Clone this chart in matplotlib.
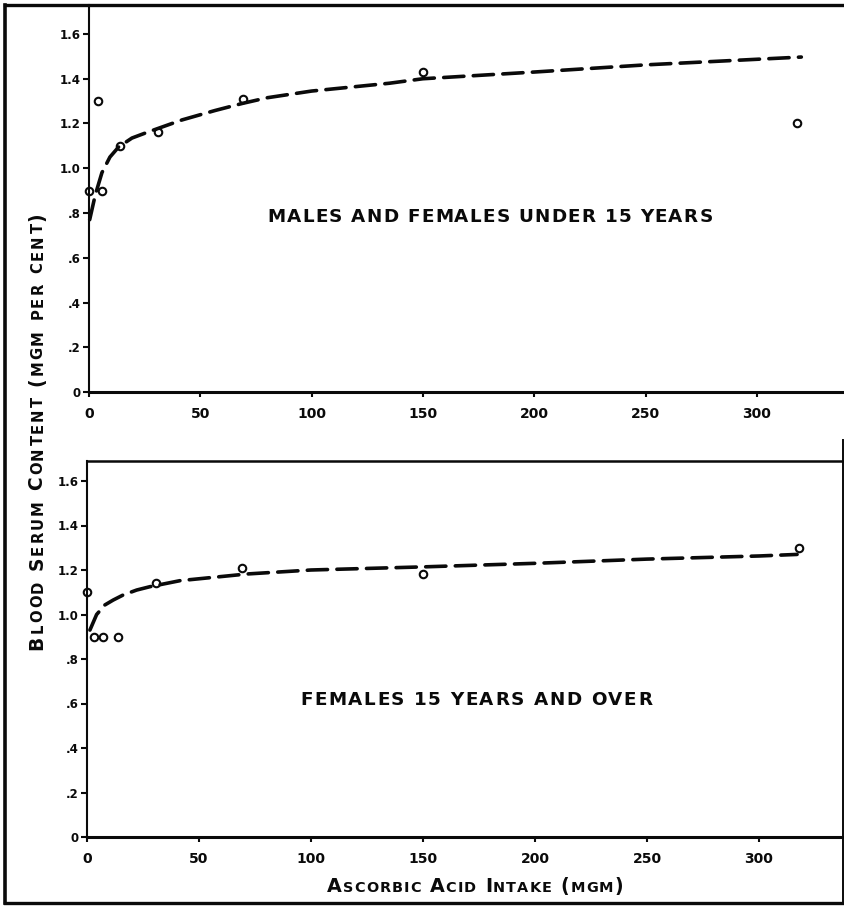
import matplotlib
matplotlib.use("Agg")
import matplotlib.pyplot as plt
from matplotlib.lines import Line2D
from matplotlib.transforms import IdentityTransform
from matplotlib.font_manager import FontProperties

W, H, DPI = 844, 906, 100
FAMILY = "DejaVu Sans"
INK = "#0a0a0a"

# ---- observations: ascorbic acid intake (mgm) vs blood serum content ----
intake_young = [0, 4, 6, 14, 31, 69, 150, 318]
serum_young = [0.90, 1.30, 0.90, 1.10, 1.16, 1.31, 1.43, 1.20]

intake_adult = [0, 3, 7, 14, 31, 69, 150, 318]
serum_adult = [1.10, 0.90, 0.90, 0.90, 1.14, 1.21, 1.18, 1.30]

# ---- hand-drawn trend curves ----
trend_young_x = [0.3, 2.8, 5.8, 9.4, 13.3, 19.3, 26.8, 41.8, 56.6, 69, 80, 100, 120, 135,
                 150, 200, 250, 300, 320]
trend_young_y = [0.77, 0.88, 0.98, 1.05, 1.095, 1.135, 1.163, 1.216, 1.258, 1.29, 1.315,
                 1.345, 1.365, 1.38, 1.40, 1.43, 1.462, 1.487, 1.497]

trend_adult_x = [1.3, 4.3, 8, 11.7, 16.2, 22.2, 28.1, 41.5, 56.4, 71.3, 100, 150, 200, 250,
                 300, 317]
trend_adult_y = [0.93, 1.0, 1.043, 1.065, 1.088, 1.11, 1.125, 1.152, 1.167, 1.182, 1.20,
                 1.214, 1.23, 1.249, 1.263, 1.27]

# ---- axis ticks and text ----
x_ticks = [0, 50, 100, 150, 200, 250, 300]
x_tick_labels = ["0", "50", "100", "150", "200", "250", "300"]
y_ticks = [0, 0.2, 0.4, 0.6, 0.8, 1.0, 1.2, 1.4, 1.6]
y_tick_labels = ["0", ".2", ".4", ".6", ".8", "1.0", "1.2", "1.4", "1.6"]
panel_titles = ["MALES AND FEMALES UNDER 15 YEARS", "FEMALES 15 YEARS AND OVER"]
x_label = "Ascorbic Acid Intake (mgm)"
y_label = "Blood Serum Content (mgm per cent)"

fig = plt.figure(figsize=(W / DPI, H / DPI), dpi=DPI)
fig.patch.set_facecolor("white")
renderer = fig.canvas.get_renderer()


def px_axes(left, top, right, bottom):
    """Axes placed by pixel edges measured from the top-left corner."""
    return fig.add_axes([left / W, (H - bottom) / H, (right - left) / W, (bottom - top) / H])


def style_axes(ax, xmax, ymax, show_top):
    ax.set_xlim(0, xmax)
    ax.set_ylim(0, ymax)
    ax.spines["right"].set_visible(False)
    ax.spines["top"].set_visible(show_top)
    ax.spines["top"].set_linewidth(1.8)
    ax.spines["left"].set_linewidth(1.5)
    ax.spines["bottom"].set_linewidth(2.2)
    for s in ax.spines.values():
        s.set_color(INK)
    ax.set_xticks(x_ticks)
    ax.set_xticklabels(x_tick_labels, fontsize=10, fontweight="bold", family=FAMILY)
    ax.set_yticks(y_ticks)
    ax.set_yticklabels(y_tick_labels, fontsize=8.5, fontweight="bold", family=FAMILY)
    ax.tick_params(axis="x", direction="out", length=3.5, width=1.5, pad=7, colors=INK)
    ax.tick_params(axis="y", direction="out", length=4, width=1.5, pad=2, colors=INK)
    ax.set_facecolor("none")


def draw_panel(ax, xs, ys, tx, ty):
    ax.plot(tx, ty, color=INK, lw=2.6, dashes=(5.6, 2.6), dash_capstyle="round",
            solid_capstyle="round", zorder=2, clip_on=False)
    ax.plot(xs, ys, linestyle="none", marker="o", markersize=5.4, markerfacecolor="none",
            markeredgecolor=INK, markeredgewidth=1.5, zorder=3, clip_on=False)


def glyph_width(ch, fp):
    w1, _, _ = renderer.get_text_width_height_descent("|" + ch + "|", fp, ismath=False)
    w0, _, _ = renderer.get_text_width_height_descent("||", fp, ismath=False)
    return w1 - w0


def lettered(text, center, base, span, big, small=None, rotate=False):
    """Draw text letter by letter (small capitals for lower-case letters),
    spread evenly over `span` pixels around `center`."""
    big_fp = FontProperties(family=FAMILY, size=big, weight="bold")
    small_fp = FontProperties(family=FAMILY, size=small or big, weight="bold")
    glyphs = [(c.upper(), small_fp) if c.islower() else (c, big_fp) for c in text]
    widths = [glyph_width(c, fp) for c, fp in glyphs]
    gap = (span - sum(widths)) / (len(glyphs) - 1)
    pos = center - span / 2
    for (c, fp), w in zip(glyphs, widths):
        if c != " ":
            if rotate:
                x, y = base, pos
            else:
                x, y = pos, base
            fig.text(x, y, c, transform=IdentityTransform(), fontproperties=fp, color=INK,
                     ha="left", va="baseline", rotation=90 if rotate else 0,
                     rotation_mode="anchor")
        pos += w + gap


# upper panel: males and females under 15 years
ax1 = px_axes(89, 5, 844, 392)
style_axes(ax1, 755 / 2.226, 387 / 223.75, show_top=False)
draw_panel(ax1, intake_young, serum_young, trend_young_x, trend_young_y)

# lower panel: females 15 years and over
ax2 = px_axes(87, 461, 844, 837)
style_axes(ax2, 757 / 2.24, 376 / 222.5, show_top=True)
draw_panel(ax2, intake_adult, serum_adult, trend_adult_x, trend_adult_y)

# panel captions
lettered(panel_titles[0], 490, H - 222, 445, 13.2)
lettered(panel_titles[1], 476, H - 705, 352, 13.2)

# shared axis titles
lettered(x_label, 475, H - 892, 296, 13.8, 10.4)
lettered(y_label, H - 431, 42.5, 437, 13.4, 10.6, rotate=True)

# outer border of the plate
frame = [
    ([5, 5], [H - 5, H - 903], 2.6),
    ([5, 844], [H - 5, H - 5], 2.4),
    ([5, 844], [H - 903, H - 903], 2.4),
    ([843, 843], [H - 440, H - 903], 1.4),
]
for xs, ys, lw in frame:
    fig.add_artist(Line2D(xs, ys, transform=IdentityTransform(), color=INK, lw=lw,
                          solid_capstyle="projecting"))

fig.savefig("out.png", dpi=DPI, facecolor="white")
